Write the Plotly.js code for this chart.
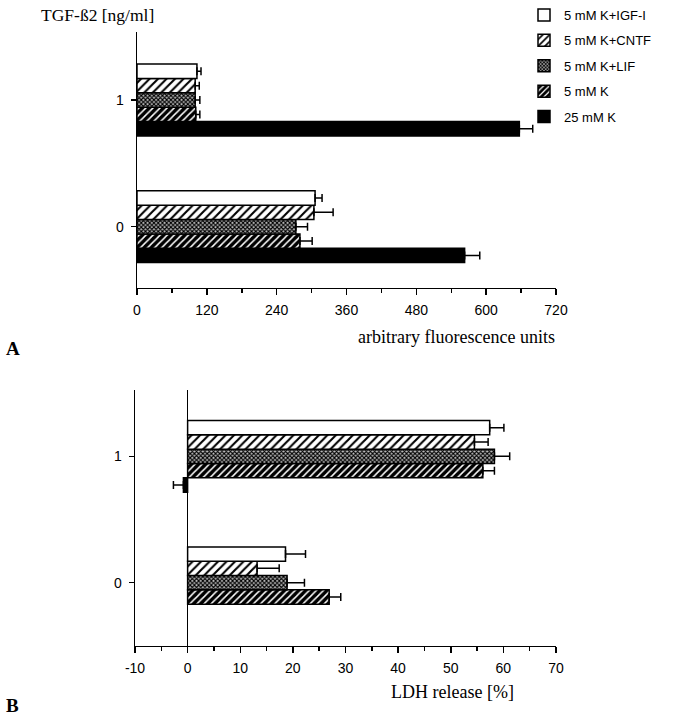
<!DOCTYPE html>
<html>
<head>
<meta charset="utf-8">
<script src="https://cdn.plot.ly/plotly-3.0.1.min.js"></script>
<style>html,body{margin:0;padding:0;background:#fff;}#chart{width:684px;height:719px;}</style>
</head>
<body>
<div id="chart"></div>
<script>
// ---- data ----
const categories = [0, 1];
const tickLabels = ["0", "1"];
const seriesNames = ["25 mM K", "5 mM K", "5 mM K+LIF", "5 mM K+CNTF", "5 mM K+IGF-I"];

// Panel A: arbitrary fluorescence units
const k25A = [563, 657];      const k25AErr = [26, 23];
const k5A = [280, 101];       const k5AErr = [21, 7];
const lifA = [273, 100];      const lifAErr = [20, 8];
const cntfA = [304, 100];     const cntfAErr = [33, 7];
const igfA = [306, 103];      const igfAErr = [12, 7];

// Panel B: LDH release [%]
const k25B = [null, -0.8];    const k25BErrPlus = [0, 0]; const k25BErrMinus = [0, 1.9];
const k5B = [26.9, 56.1];     const k5BErr = [2.2, 2.2];
const lifB = [18.9, 58.3];    const lifBErr = [3.3, 2.9];
const cntfB = [13.2, 54.5];   const cntfBErr = [4.2, 2.6];
const igfB = [18.6, 57.4];    const igfBErr = [3.8, 2.7];

const xTicksA = [0, 120, 240, 360, 480, 600, 720];
const xTicksB = [-10, 0, 10, 20, 30, 40, 50, 60, 70];

// ---- styles ----
const styles = [
  {color: "#000000", pattern: {shape: ""}},
  {color: "#000000", pattern: {shape: "/", fgcolor: "#ffffff", bgcolor: "#000000", size: 5, solidity: 0.3}},
  {color: "#444444", pattern: {shape: "x", fgcolor: "#000000", bgcolor: "#bbbbbb", size: 3, solidity: 0.6}},
  {color: "#ffffff", pattern: {shape: "/", fgcolor: "#000000", bgcolor: "#ffffff", size: 6, solidity: 0.35}},
  {color: "#ffffff", pattern: {shape: ""}}
];

const aVals = [k25A, k5A, lifA, cntfA, igfA];
const aErrs = [k25AErr, k5AErr, lifAErr, cntfAErr, igfAErr];
const bVals = [k25B, k5B, lifB, cntfB, igfB];
const bErrs = [k25BErrPlus, k5BErr, lifBErr, cntfBErr, igfBErr];
const bErrsMinus = [k25BErrMinus, [0,0], [0,0], [0,0], [0,0]];

const traces = [];
for (let i = 0; i < 5; i++) {
  traces.push({
    type: "bar", orientation: "h", name: seriesNames[i],
    x: aVals[i], y: categories, xaxis: "x", yaxis: "y",
    legendgroup: "g" + i, legendrank: 100 - i * 10,
    marker: {color: styles[i].color, pattern: styles[i].pattern, line: {color: "#000", width: 1.5}},
    error_x: {type: "data", symmetric: false, array: aErrs[i], arrayminus: [0, 0], color: "#000", thickness: 1.5, width: 4},
    hoverinfo: "x+name"
  });
}
for (let i = 0; i < 5; i++) {
  traces.push({
    type: "bar", orientation: "h", name: seriesNames[i],
    x: bVals[i], y: categories, xaxis: "x2", yaxis: "y2",
    legendgroup: "g" + i, showlegend: false,
    marker: {color: styles[i].color, pattern: styles[i].pattern, line: {color: "#000", width: 1.5}},
    error_x: {type: "data", symmetric: false, array: bErrs[i], arrayminus: bErrsMinus[i], color: "#000", thickness: 1.5, width: 4},
    hoverinfo: "x+name"
  });
}

const tickFont = {family: "Liberation Sans, Arial, sans-serif", size: 14, color: "#000"};
const serif = "Liberation Serif, Times New Roman, serif";

const layout = {
  width: 684, height: 719,
  margin: {l: 0, r: 0, t: 0, b: 0},
  paper_bgcolor: "#fff", plot_bgcolor: "rgba(0,0,0,0)",
  barmode: "group", bargap: 0.433, bargroupgap: 0,
  showlegend: true,
  legend: {
    x: 524/684, y: 1, xanchor: "left", yanchor: "top",
    traceorder: "grouped", tracegroupgap: 5.5,
    font: {family: "Liberation Sans, Arial, sans-serif", size: 13, color: "#000"},
    bgcolor: "rgba(0,0,0,0)"
  },
  xaxis: {
    domain: [137/684, 556/684], anchor: "y", range: [0, 720],
    tickvals: xTicksA, ticktext: xTicksA.map(String),
    showgrid: false, zeroline: false, showline: true, linecolor: "#000", linewidth: 1.5,
    ticks: "outside", ticklen: 6, tickwidth: 1.5, tickcolor: "#000",
    minor: {dtick: 60, ticks: "outside", ticklen: 4, tickwidth: 1.5, tickcolor: "#000", showgrid: false},
    tickfont: tickFont, ticklabelstandoff: 3
  },
  yaxis: {
    domain: [1 - 287.5/719, 1 - 32/719], anchor: "x", range: [-0.48, 1.537],
    tickvals: categories, ticktext: tickLabels,
    showgrid: false, zeroline: false, showline: true, linecolor: "#000", linewidth: 1.5,
    ticks: "outside", ticklen: 5, tickwidth: 1.5, tickcolor: "#000",
    tickfont: tickFont, ticklabelstandoff: 4
  },
  xaxis2: {
    domain: [135/684, 556/684], anchor: "y2", range: [-10, 70],
    tickvals: xTicksB, ticktext: xTicksB.map(String),
    showgrid: false, zeroline: true, zerolinecolor: "#000", zerolinewidth: 1.5,
    showline: true, linecolor: "#000", linewidth: 1.5,
    ticks: "outside", ticklen: 6, tickwidth: 1.5, tickcolor: "#000",
    minor: {dtick: 5, ticks: "outside", ticklen: 4, tickwidth: 1.5, tickcolor: "#000", showgrid: false},
    tickfont: tickFont, ticklabelstandoff: 3
  },
  yaxis2: {
    domain: [1 - 645.5/719, 1 - 390/719], anchor: "x2", range: [-0.497, 1.525],
    tickvals: categories, ticktext: tickLabels,
    showgrid: false, zeroline: false, showline: true, linecolor: "#000", linewidth: 1.5,
    ticks: "outside", ticklen: 5, tickwidth: 1.5, tickcolor: "#000",
    tickfont: tickFont, ticklabelstandoff: 4
  },
  annotations: [
    {text: "TGF-ß2 [ng/ml]", xref: "paper", yref: "paper", x: 39/684, y: 1 - 15/719, xanchor: "left", yanchor: "middle", showarrow: false, font: {family: serif, size: 17.5, color: "#000"}},
    {text: "arbitrary fluorescence units", xref: "paper", yref: "paper", x: 557/684, y: 1 - 337/719, xanchor: "right", yanchor: "middle", showarrow: false, font: {family: serif, size: 18, color: "#000"}},
    {text: "LDH release [%]", xref: "paper", yref: "paper", x: 516/684, y: 1 - 692/719, xanchor: "right", yanchor: "middle", showarrow: false, font: {family: serif, size: 18, color: "#000"}},
    {text: "<b>A</b>", xref: "paper", yref: "paper", x: 4/684, y: 1 - 348/719, xanchor: "left", yanchor: "middle", showarrow: false, font: {family: serif, size: 19, color: "#000"}},
    {text: "<b>B</b>", xref: "paper", yref: "paper", x: 4/684, y: 1 - 705/719, xanchor: "left", yanchor: "middle", showarrow: false, font: {family: serif, size: 19, color: "#000"}}
  ]
};

Plotly.newPlot("chart", traces, layout, {displayModeBar: false, staticPlot: true});
</script>
</body>
</html>
